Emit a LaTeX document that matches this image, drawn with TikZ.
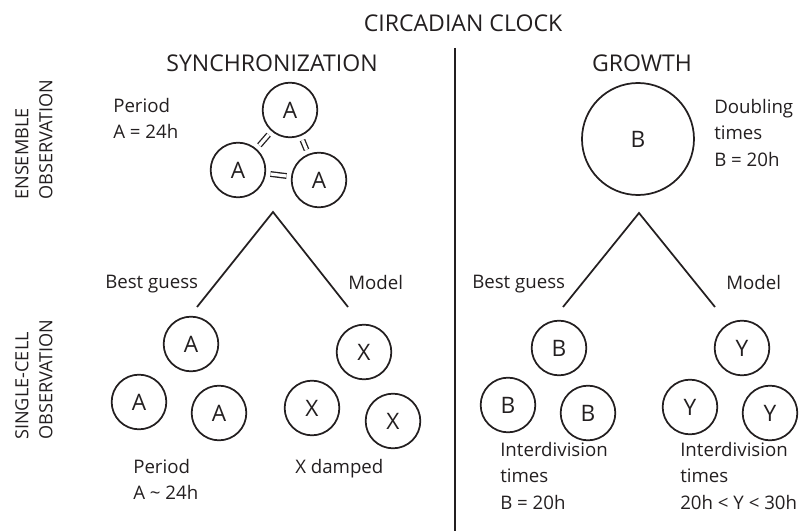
\documentclass[tikz,border=0pt]{standalone}
\usepackage{fontspec}
\setmainfont{Open Sans}
\usetikzlibrary{calc}
\definecolor{ink}{HTML}{231F20}
\tikzset{
  cell/.style={circle, draw=ink, line width=1.3pt, minimum size=41pt, inner sep=0pt, outer sep=0pt, font=\fontsize{17}{20}\selectfont, text=ink},
  bigcell/.style={cell, minimum size=84pt},
  sync/.style={draw=ink, double, double distance=2.4pt, line width=1pt, shorten <=4pt, shorten >=4pt},
  branch/.style={draw=ink, line width=1.3pt},
  divider/.style={draw=ink, line width=1.8pt},
  title/.style={font=\fontsize{17.3}{20}\selectfont, text=ink, inner sep=0pt},
  body/.style={font=\fontsize{14}{19.9}\selectfont, text=ink, inner sep=0pt, align=left, anchor=north west},
  side/.style={font=\fontsize{13.6}{18}\selectfont, text=ink, inner sep=0pt, align=left, rotate=90, anchor=west},
}
\begin{document}
\begin{tikzpicture}[x=0.75pt, y=-0.75pt]
\useasboundingbox (0,0) rectangle (808,531);
% titles
\node[title] (clock) at (463,23) {CIRCADIAN CLOCK};
\node[title] (synch) at (272,63) {SYNCHRONIZATION};
\node[title] (growth) at (642,63) {GROWTH};
% divider
\coordinate (dtop) at (455,48);
\coordinate (dbot) at (455,531);
\draw[divider] (dtop) -- (dbot);
% side labels
\node[side] (ens) at (34,200) {ENSEMBLE\\OBSERVATION};
\node[side] (sc) at (34,440) {SINGLE-CELL\\OBSERVATION};
% ensemble synchronization
\node[cell] (a1) at (290,110) {A};
\node[cell] (a2) at (238,170) {A};
\node[cell] (a3) at (319,180) {A};
\draw[sync] (a1) -- (a2);
\draw[sync] (a1) -- (a3);
\draw[sync] (a2) -- (a3);
\node[body] (per1) at (113,98) {Period\\A = 24h};
% ensemble growth
\node[bigcell] (b0) at (638,139) {B};
\node[body] (dbl) at (714,99) {Doubling\\times\\B = 20h};
% trees
\coordinate (lapex) at (273,212);
\coordinate (lfl) at (197,307);
\coordinate (lfr) at (348,307);
\draw[branch] (lfl) -- (lapex) -- (lfr);
\coordinate (rapex) at (639,213);
\coordinate (rfl) at (563,307);
\coordinate (rfr) at (715,307);
\draw[branch] (rfl) -- (rapex) -- (rfr);
\node[body] (bg1) at (105,275) {Best guess};
\node[body] (md1) at (348,275) {Model};
\node[body] (bg2) at (472,275) {Best guess};
\node[body] (md2) at (726,275) {Model};
% single cell A
\node[cell] (sa1) at (191,344) {A};
\node[cell] (sa2) at (139,402) {A};
\node[cell] (sa3) at (219,413) {A};
% single cell X
\node[cell] (sx1) at (364,352) {X};
\node[cell] (sx2) at (312,408) {X};
\node[cell] (sx3) at (393,421) {X};
% single cell B
\node[cell] (sb1) at (559,348) {B};
\node[cell] (sb2) at (508,405) {B};
\node[cell] (sb3) at (588,413) {B};
% single cell Y
\node[cell] (sy1) at (742,348) {Y};
\node[cell] (sy2) at (690,407) {Y};
\node[cell] (sy3) at (770,413) {Y};
% bottom labels
\node[body] (per2) at (133,459) {Period\\A \textasciitilde{} 24h};
\node[body] (xd) at (295,459) {X damped};
\node[body] (int1) at (500,442) {Interdivision\\times\\B = 20h};
\node[body] (int2) at (680,442) {Interdivision\\times\\20h < Y < 30h};
\end{tikzpicture}
\end{document}
